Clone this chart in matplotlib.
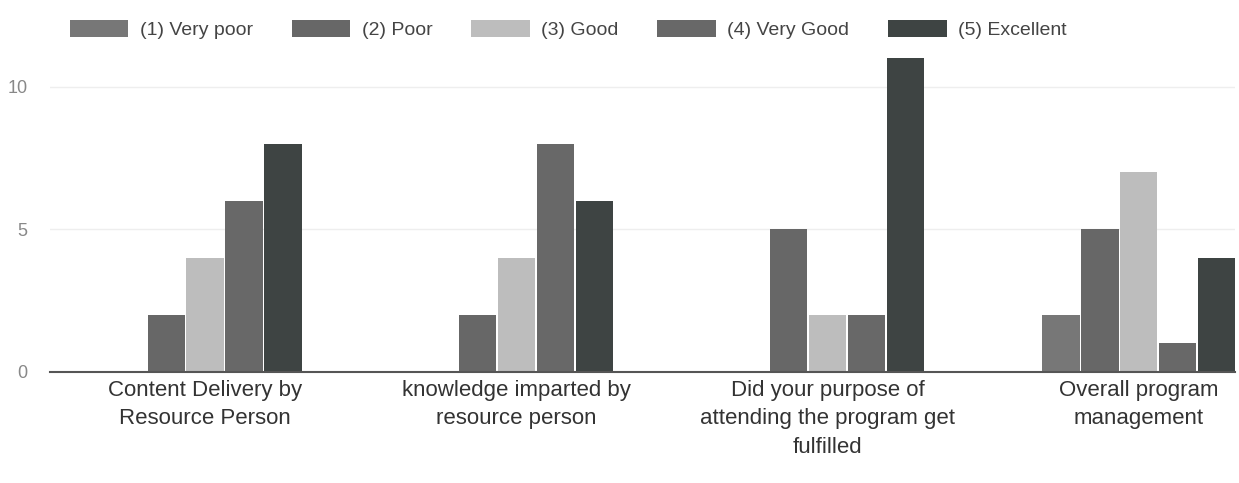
import matplotlib.pyplot as plt
import numpy as np

plt.rcParams["font.family"] = ["Liberation Sans", "DejaVu Sans"]

# data
questions = ["Content Delivery by\nResource Person",
             "knowledge imparted by\nresource person",
             "Did your purpose of\nattending the program get\nfulfilled",
             "Overall program\nmanagement"]
ratings = ["(1) Very poor", "(2) Poor", "(3) Good", "(4) Very Good", "(5) Excellent"]
very_poor = [0, 0, 0, 2]
poor = [2, 2, 5, 5]
good = [4, 4, 2, 7]
very_good = [6, 8, 2, 1]
excellent = [8, 6, 11, 4]

series = [very_poor, poor, good, very_good, excellent]
colors = ["#777777", "#676767", "#bdbdbd", "#686868", "#3e4443"]

fig = plt.figure(figsize=(12.39, 4.83), dpi=100)
ax = fig.add_axes([0.04, 0.23, 0.957, 0.65])

x = np.arange(len(questions))
w = 0.125
for i, (vals, c, lab) in enumerate(zip(series, colors, ratings)):
    ax.bar(x + (i - 2) * w, vals, width=w * 0.96, color=c, label=lab)

ax.set_xlim(-0.5, 3.31)
ax.set_ylim(0, 11)
ax.set_yticks([0, 5, 10])
ax.set_xticks(x)
ax.set_xticklabels(questions, fontsize=16, color="#333333", linespacing=1.45)
ax.tick_params(axis="y", labelsize=13, labelcolor="#888888", length=0, pad=16)
ax.tick_params(axis="x", length=0, pad=6)
ax.grid(axis="y", color="#eeeeee", linewidth=1)
ax.set_axisbelow(True)
for s in ["top", "right", "left"]:
    ax.spines[s].set_visible(False)
ax.spines["bottom"].set_color("#555555")
ax.spines["bottom"].set_linewidth(1.5)

fig.legend(loc="upper left", bbox_to_anchor=(0.042, 0.995), ncol=5, frameon=False,
           fontsize=14, labelcolor="#444444", handlelength=3.0, handleheight=1.0,
           columnspacing=2.0, handletextpad=0.6)

plt.savefig("out.png")
